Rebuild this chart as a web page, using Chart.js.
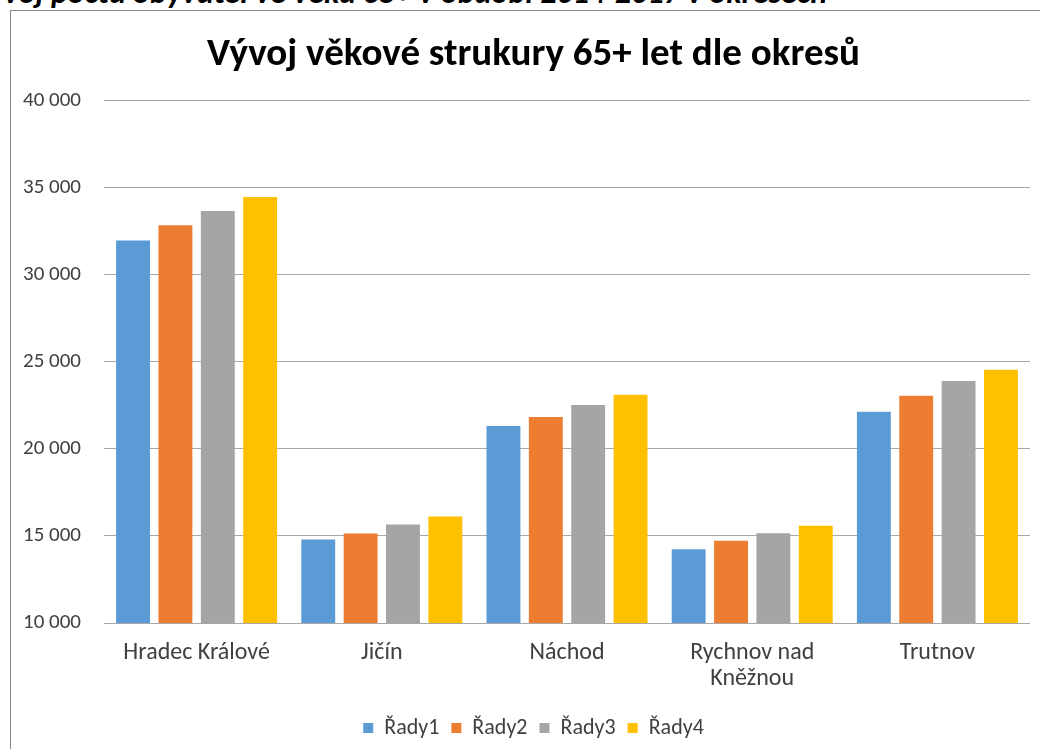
<!DOCTYPE html>
<html>
<head>
<meta charset="utf-8">
<script src="https://cdn.jsdelivr.net/npm/chart.js@4/dist/chart.umd.min.js"></script>
<style>
  body { margin: 0; background: #fff; overflow: hidden; width: 1040px; height: 749px; position: relative; }
  #topText { position: absolute; left: -30px; top: -23px; font-family: Carlito, "Liberation Sans Narrow", "Open Sans", sans-serif;
    font-size: 32px; font-weight: bold; font-style: italic; line-height: 1; white-space: nowrap; color: #000; }
  #frame { position: absolute; left: 10px; top: 10px; width: 1100px; height: 800px; border-left: 1px solid #888; border-top: 1px solid #888; }
  #wrap { position: absolute; left: 11px; top: 11px; width: 1029px; height: 738px; }
</style>
</head>
<body>
<div id="topText">Vývoj počtu obyvatel ve věku 65+ v období 2014-2017 v okresech</div>
<div id="frame"></div>
<div id="wrap"><canvas id="vekChart"></canvas></div>
<script>
// okresy a hodnoty
var okresy = ["Hradec Králové", "Jičín", "Náchod", ["Rychnov nad", "Kněžnou"], "Trutnov"];
var rady1 = [31980, 14790, 21320, 14230, 22140];
var rady2 = [32850, 15140, 21840, 14720, 23050];
var rady3 = [33670, 15660, 22530, 15160, 23900];
var rady4 = [34480, 16120, 23110, 15580, 24550];
var nazvyRad = ["Řady1", "Řady2", "Řady3", "Řady4"];
var barvy = ["#5B9BD5", "#ED7D31", "#A5A5A5", "#FFC000"];
var osaMin = 10000, osaMax = 40000, osaKrok = 5000;

var pismo = 'Carlito, "Liberation Sans Narrow", "Open Sans", sans-serif';

function formatCislo(v){
    return String(v).replace(/\B(?=(\d{3})+(?!\d))/g, ' ');
}

var serie = [rady1, rady2, rady3, rady4];
var datasets = serie.map(function(data, i){
    return {
        label: nazvyRad[i],
        data: data,
        backgroundColor: barvy[i],
        borderWidth: 0,
        categoryPercentage: 0.915,
        barPercentage: 0.8
    };
});

var ctx = document.getElementById("vekChart").getContext('2d');
var myBarChart = new Chart(ctx, {
    type: 'bar',
    data: {
        labels: okresy,
        datasets: datasets
    },
    options: {
        responsive: true,
        maintainAspectRatio: false,
        animation: false,
        layout: { padding: { left: 26, right: 10, top: 0, bottom: 0 } },
        plugins: {
            title: {
                display: true,
                text: 'Vývoj věkové strukury 65+ let dle okresů',
                color: '#000',
                font: { family: pismo, size: 39, weight: 'bold' },
                padding: { top: 21, bottom: 22 }
            },
            legend: {
                position: 'bottom',
                labels: {
                    boxWidth: 10,
                    boxHeight: 10,
                    padding: 12,
                    color: '#404040',
                    font: { family: pismo, size: 22 }
                }
            },
            tooltip: { enabled: false }
        },
        scales: {
            x: {
                grid: { display: false, drawTicks: false },
                border: { display: false },
                ticks: {
                    color: '#404040',
                    padding: 17,
                    maxRotation: 0,
                    autoSkip: false,
                    font: { family: pismo, size: 24, lineHeight: 1.08 }
                },
                afterFit: function(scale){ scale.height = 82; }
            },
            y: {
                min: osaMin,
                max: osaMax,
                grid: { color: '#a8a8a8', drawTicks: false },
                border: { display: false },
                ticks: {
                    stepSize: osaKrok,
                    // mirror = popisky se neorezavaji, vsechny maji stejnou sirku
                    mirror: true,
                    padding: -81,
                    color: '#404040',
                    font: { family: pismo, size: 21 },
                    callback: function(v){ return formatCislo(v); }
                },
                afterFit: function(scale){ scale.width = 67; }
            }
        }
    }
});
</script>
</body>
</html>
